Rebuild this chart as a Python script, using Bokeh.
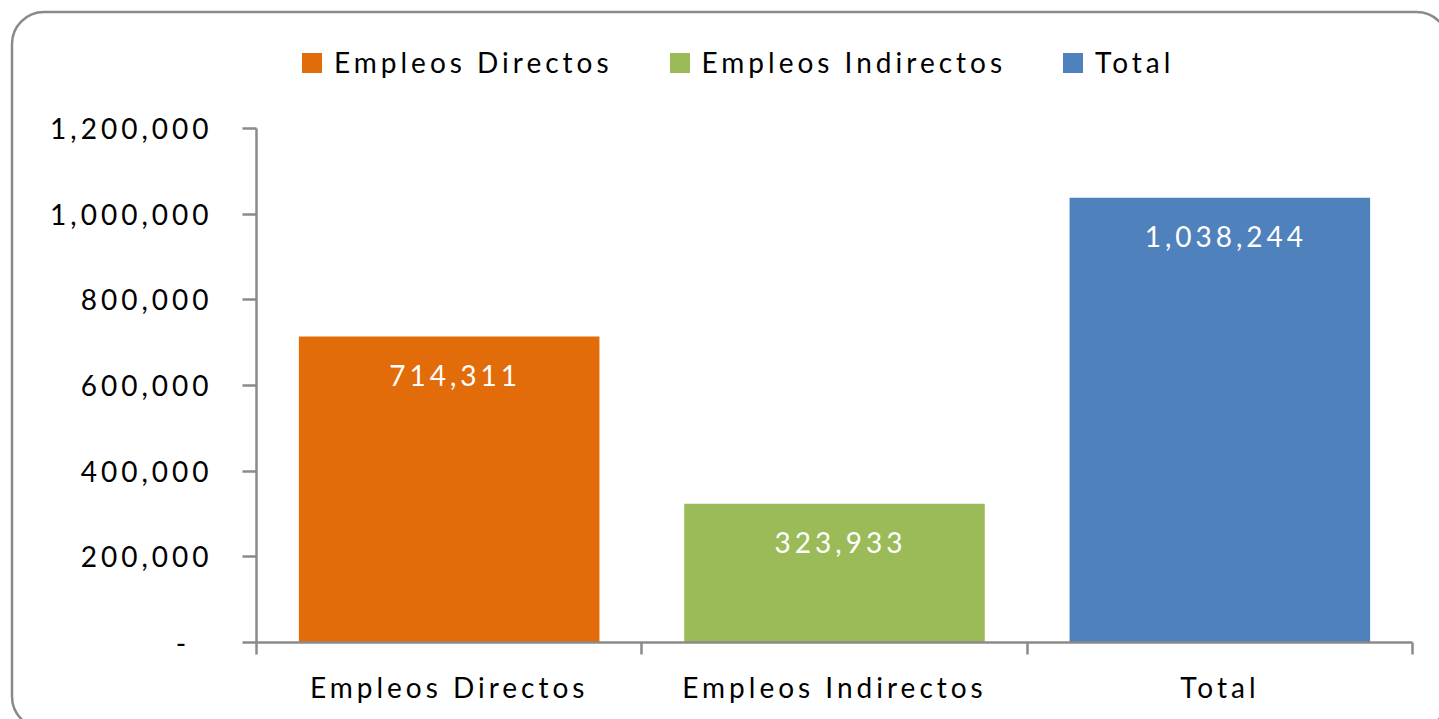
from bokeh.plotting import figure
from bokeh.models import (Range1d, FixedTicker, Legend, LegendItem, ColumnDataSource, BoxAnnotation)
from bokeh.core.properties import value
from bokeh.embed import file_html
from bokeh.resources import INLINE

categories = ["Empleos Directos", "Empleos Indirectos", "Total"]
values = [714311, 323933, 1038244]
colors = ["#E36C0A", "#9BBB59", "#4F81BD"]
y_ticks = [0, 200000, 400000, 600000, 800000, 1000000, 1200000]
y_tick_labels = ["-  ", "200,000", "400,000", "600,000", "800,000", "1,000,000", "1,200,000"]

FONT = "Lato"
FS = "28px"
LS = 4.0  # letter spacing (px) applied through CSS

xs = [i + 0.5 for i in range(len(categories))]
bar_labels = ["{:,}".format(v) for v in values]
bar_src = ColumnDataSource(dict(x=xs, top=values, lab=bar_labels,
                                xoff=[4 - (len(s) - 1) * LS / 2 for s in bar_labels]))
cat_src = ColumnDataSource(dict(x=xs, y=[0] * len(xs), lab=categories,
                                xoff=[-2 - (len(s) - 1) * LS / 2 for s in categories]))
ytl_src = ColumnDataSource(dict(x=[0] * len(y_ticks), y=y_ticks, lab=y_tick_labels,
                                xoff=[-48 - (len(s) - 1) * LS for s in y_tick_labels]))

W, H = 1439, 719
# pixel placement of the axes inside the page
AX_L, AX_R, AX_T, AX_B = 256, 1412, 128, 642
ymax = y_ticks[-1]
px_x = (AX_R - AX_L) / len(categories)
px_y = (AX_B - AX_T) / ymax
x0, x1 = -AX_L / px_x, len(categories) + (W - AX_R) / px_x
y0, y1 = -(H - AX_B) / px_y, AX_B / px_y

p = figure(width=W, height=H, output_backend="svg", toolbar_location=None,
           x_range=Range1d(x0, x1), y_range=Range1d(y0, y1),
           min_border_left=0, min_border_right=0, min_border_top=0, min_border_bottom=0)
p.outline_line_color = None
p.xgrid.visible = False
p.ygrid.visible = False
p.background_fill_color = "white"
p.border_fill_color = "white"
p.styles = {"letter-spacing": "%gpx" % LS}

# rounded chart-area border (page pixels converted to data units)
p.add_layout(BoxAnnotation(left=x0 + 11.5 / px_x, right=x0 + 1448 / px_x,
                           top=y1 - 11.5 / px_y, bottom=y1 - 728 / px_y,
                           fill_color=None, fill_alpha=0, line_color="#8a8a8a", line_alpha=1,
                           line_width=2.5, border_radius=32, editable=False))

renderers = []
for i in range(len(categories)):
    r = p.vbar(x=[xs[i]], top=[values[i]], width=0.78, color=colors[i], line_color=None)
    renderers.append(r)

p.text(x="x", y="top", text="lab", source=bar_src, text_color="white",
       text_font=value(FONT), text_font_size=FS, text_align="center",
       text_baseline="middle", y_offset=39, x_offset="xoff")

# y axis
ya = p.yaxis[0]
ya.fixed_location = 0
ya.ticker = FixedTicker(ticks=y_ticks)
ya.major_label_overrides = {t: "" for t in y_ticks}
ya.bounds = (0, ymax)
ya.axis_line_color = "#8a8a8a"
ya.axis_line_width = 2.5
ya.major_tick_line_color = "#8a8a8a"
ya.major_tick_line_width = 2.5
ya.major_tick_out = 14
ya.major_tick_in = 0
ya.minor_tick_line_color = None

p.text(x="x", y="y", text="lab", source=ytl_src, x_offset="xoff",
       text_font=value(FONT), text_font_size=FS, text_color="black",
       text_align="right", text_baseline="middle")

# x axis
xa = p.xaxis[0]
xa.fixed_location = 0
xa.ticker = FixedTicker(ticks=xs, minor_ticks=list(range(len(categories) + 1)))
xa.major_label_overrides = {x: "" for x in xs}
xa.bounds = (0, len(categories))
xa.axis_line_color = "#8a8a8a"
xa.axis_line_width = 2.5
xa.major_tick_line_color = None
xa.major_tick_out = 0
xa.major_tick_in = 0
xa.minor_tick_line_color = "#8a8a8a"
xa.minor_tick_line_width = 2.5
xa.minor_tick_out = 12
xa.minor_tick_in = 0

p.text(x="x", y="y", text="lab", source=cat_src, x_offset="xoff", y_offset=44,
       text_font=value(FONT), text_font_size=FS, text_color="black",
       text_align="center", text_baseline="middle")

legend = Legend(items=[LegendItem(label=c, renderers=[r]) for c, r in zip(categories, renderers)],
                orientation="horizontal", location=(299, 640),
                label_text_font=FONT, label_text_font_size=FS, label_text_color="black",
                glyph_width=25, glyph_height=25, label_standoff=10, spacing=54,
                border_line_color=None, background_fill_alpha=0, padding=0, margin=0)
p.add_layout(legend, "center")

open("out.html", "w").write(file_html(p, INLINE))
